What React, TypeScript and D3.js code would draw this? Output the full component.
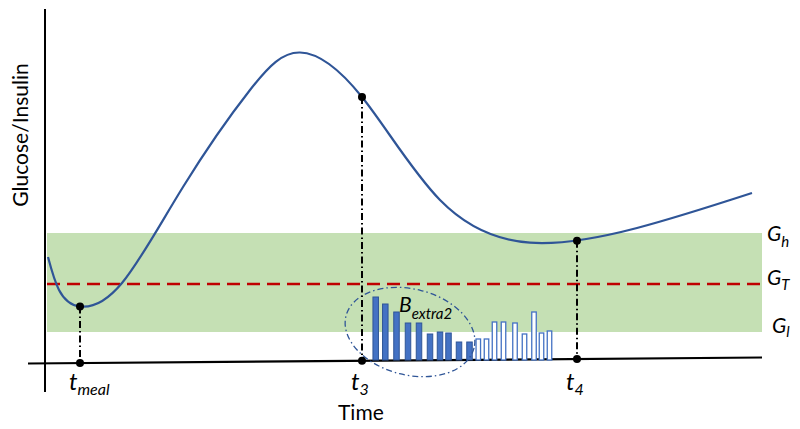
import React from "react";
import * as d3 from "d3";

// Glucose curve (time, glucose) in arbitrary units
const curveTime = [3, 14, 35, 77, 138, 205, 255, 317, 395, 485, 592, 707];
const curveGlucose = [103, 70, 53.5, 77, 173, 270, 307.5, 263, 160, 117.3, 132, 167];

// Insulin boluses
const bolusTime = [330.7, 340.3, 351.5, 363, 374, 385, 395, 403.5, 414, 424.5, 433.3, 441.5, 449.5, 458.5, 470, 479.5, 489, 496.5, 504.5];
const bolusValue = [63, 56, 48, 37, 37, 26, 28, 27, 18, 18, 21, 21, 38, 38, 37, 26, 48, 27, 29];
const bolusExtra = [true, true, true, true, true, true, true, true, true, true, false, false, false, false, false, false, false, false, false];

// Key time points
const keyNames = ["meal", "3", "4"];
const keyTime = [35, 317, 532];

// Thresholds
const gHigh = 127;
const gTarget = 76;
const gLow = 28;
const bandStart = 2;
const bandEnd = 717;

const W = 800;
const H = 429;
const FONT = "Lato, 'Open Sans', sans-serif";
const BLUE = "#2F5597";
const BAR = "#4472C4";

export default function App() {
  const x = d3.scaleLinear().domain([0, 720]).range([45, 765]);
  const y = d3.scaleLinear().domain([0, 350]).range([360, 10]);
  // slightly tilted time axis line
  const axisY = d3.scaleLinear().domain([28, 762]).range([363.5, 357.5]);

  const pts: [number, number][] = curveTime.map((t, i) => [t, curveGlucose[i]]);
  const line = d3
    .line<[number, number]>()
    .x((d) => x(d[0]))
    .y((d) => y(d[1]))
    .curve(d3.curveNatural);
  const pathD = line(pts) ?? "";

  // locate the curve's y at each key time by sampling the rendered path
  const keyY: number[] = React.useMemo(() => {
    if (typeof document === "undefined") return keyTime.map(() => 0);
    const ns = "http://www.w3.org/2000/svg";
    const svg = document.createElementNS(ns, "svg");
    const p = document.createElementNS(ns, "path");
    p.setAttribute("d", pathD);
    svg.appendChild(p);
    svg.setAttribute("style", "position:absolute;visibility:hidden");
    document.body.appendChild(svg);
    const len = p.getTotalLength();
    const res = keyTime.map((t) => {
      const tx = x(t);
      let lo = 0, hi = len;
      for (let k = 0; k < 40; k++) {
        const mid = (lo + hi) / 2;
        if (p.getPointAtLength(mid).x < tx) lo = mid; else hi = mid;
      }
      return p.getPointAtLength(lo).y;
    });
    document.body.removeChild(svg);
    return res;
  }, [pathD]);

  const barW = 5.5;
  const dashDot = "7,3,1.5,3";

  return (
    <svg width={W} height={H} style={{ display: "block", position: "absolute", left: 0, top: 0 }} fontFamily={FONT}>
      <rect x={0} y={0} width={W} height={H} fill="#fff" />
      {/* green band */}
      <rect x={x(bandStart)} y={y(gHigh)} width={x(bandEnd) - x(bandStart)} height={y(gLow) - y(gHigh)} fill="#C5E0B4" />
      {/* target dashed line */}
      <line x1={x(bandStart)} x2={x(bandEnd)} y1={y(gTarget)} y2={y(gTarget)} stroke="#C00000" strokeWidth={2.5} strokeDasharray="13,7" />

      {/* axes */}
      <line x1={45} x2={45} y1={9} y2={392} stroke="#000" strokeWidth={2} />
      <line x1={28} x2={762} y1={axisY(28)} y2={axisY(762)} stroke="#000" strokeWidth={2.2} />

      {/* bars */}
      {bolusTime.map((t, i) =>
        bolusExtra[i] ? (
          <rect key={i} x={x(t) - barW / 2} y={y(bolusValue[i])} width={barW} height={y(0) - y(bolusValue[i])} fill={BAR} stroke={BLUE} strokeWidth={1} />
        ) : (
          <rect key={i} x={x(t) - barW / 2 + 0.5} y={y(bolusValue[i])} width={barW - 1} height={y(0) - y(bolusValue[i])} fill="#fff" stroke={BAR} strokeWidth={1.3} />
        )
      )}

      {/* ellipse */}
      <ellipse
        cx={x(365)}
        cy={y(28)}
        rx={66}
        ry={43}
        transform={`rotate(14 ${x(365)} ${y(28)})`}
        fill="none"
        stroke={BLUE}
        strokeWidth={1.3}
        strokeDasharray="6,3,1.5,3"
      />

      {/* glucose curve */}
      <path d={pathD} fill="none" stroke={BLUE} strokeWidth={2.2} />

      {/* key points */}
      {keyTime.map((t, i) => (
        <g key={i}>
          <line x1={x(t)} x2={x(t)} y1={keyY[i]} y2={axisY(x(t))} stroke="#000" strokeWidth={2} strokeDasharray={dashDot} />
          <circle cx={x(t)} cy={keyY[i]} r={4} fill="#000" />
          <circle cx={x(t)} cy={axisY(x(t))} r={4} fill="#000" />
          <text x={x(t) - 11} y={390} fontSize={24} fontStyle="italic" fill="#000">
            t
            <tspan fontSize={16} dy={5}>{keyNames[i]}</tspan>
          </text>
        </g>
      ))}

      {/* B extra2 label */}
      <text x={399} y={312} fontSize={21} fontStyle="italic" fill="#000">
        B<tspan fontSize={15} dy={7}>extra2</tspan>
      </text>

      {/* threshold labels */}
      <text x={767} y={241} fontSize={21} fontStyle="italic" fill="#000">
        G<tspan fontSize={15} dy={6}>h</tspan>
      </text>
      <text x={767} y={285} fontSize={21} fontStyle="italic" fill="#000">
        G<tspan fontSize={15} dy={5}>T</tspan>
      </text>
      <text x={772} y={333} fontSize={21} fontStyle="italic" fill="#000">
        G<tspan fontSize={15} dy={4}>l</tspan>
      </text>

      {/* axis titles */}
      <text x={338} y={420} fontSize={21} fill="#000">Time</text>
      <text transform="translate(28,135) rotate(-90)" textAnchor="middle" fontSize={21} fill="#000">
        Glucose/Insulin
      </text>
    </svg>
  );
}
